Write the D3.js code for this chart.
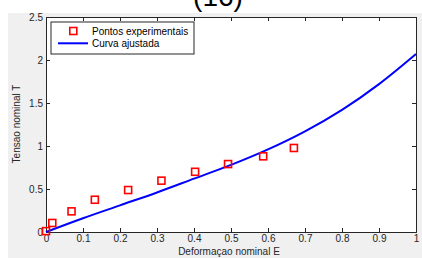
<!DOCTYPE html>
<html><head><meta charset="utf-8">
<script src="https://cdn.jsdelivr.net/npm/d3@7"></script>
<style>body{margin:0;background:#fff}text{font-family:Arial,"Liberation Sans",sans-serif}</style>
</head><body><svg id="c" width="422" height="258"></svg>
<script>
const pointsE = [0, 0.017, 0.069, 0.132, 0.222, 0.312, 0.403, 0.492, 0.587, 0.670];
const pointsT = [0.01, 0.105, 0.24, 0.375, 0.488, 0.597, 0.70, 0.79, 0.88, 0.977];
const curveE = [0, 0.1, 0.2, 0.3, 0.4, 0.5, 0.6, 0.7, 0.8, 0.9, 1.0];
const curveT = [0, 0.16, 0.31, 0.46, 0.62, 0.78, 0.96, 1.17, 1.42, 1.72, 2.07];
const xTicks = [0, 0.1, 0.2, 0.3, 0.4, 0.5, 0.6, 0.7, 0.8, 0.9, 1];
const yTicks = [0, 0.5, 1, 1.5, 2, 2.5];
const legendLabels = ["Pontos experimentais", "Curva ajustada"];

const FS = 10;
const svg = d3.select("#c");
svg.append("rect").attr("x", 8).attr("y", 13).attr("width", 414).attr("height", 245).attr("fill", "#f0f0f0");
svg.append("text").attr("x", 218).attr("y", 6).attr("text-anchor", "middle").attr("font-size", 28).attr("fill", "#000").text("(16)");

const L = 46, R = 416, T = 17, B = 232;
const x = d3.scaleLinear().domain([0, 1]).range([L, R]);
const y = d3.scaleLinear().domain([0, 2.5]).range([B, T]);

svg.append("rect").attr("x", L).attr("y", T).attr("width", R - L).attr("height", B - T).attr("fill", "#fff");

const fmt = d => d3.format("")(d);
const gx = svg.append("g").attr("transform", `translate(0,${B})`).call(d3.axisBottom(x).tickValues(xTicks).tickSize(-4).tickPadding(3).tickFormat(fmt));
const gxt = svg.append("g").attr("transform", `translate(0,${T})`).call(d3.axisTop(x).tickValues(xTicks).tickSize(-4).tickFormat(""));
const gy = svg.append("g").attr("transform", `translate(${L},0)`).call(d3.axisLeft(y).tickValues(yTicks).tickSize(-4).tickPadding(3).tickFormat(fmt));
const gyr = svg.append("g").attr("transform", `translate(${R},0)`).call(d3.axisRight(y).tickValues(yTicks).tickSize(-4).tickFormat(""));
[gx, gxt, gy, gyr].forEach(g => {
  g.selectAll("path").attr("stroke", "#262626").attr("stroke-width", 1);
  g.selectAll("line").attr("stroke", "#262626");
  g.selectAll("text").attr("font-size", FS).attr("fill", "#262626").attr("font-family", "Arial, 'Liberation Sans', sans-serif");
});
gy.selectAll("text").attr("dy", "0.35em");

const line = d3.line().x((d, i) => x(curveE[i])).y(d => y(d)).curve(d3.curveCatmullRom);
svg.append("path").datum(curveT).attr("d", line).attr("fill", "none").attr("stroke", "#0000ff").attr("stroke-width", 2);

svg.append("g").selectAll("rect").data(pointsT).join("rect")
  .attr("x", (d, i) => x(pointsE[i]) - 3.5).attr("y", d => y(d) - 3.5)
  .attr("width", 7).attr("height", 7).attr("fill", "none").attr("stroke", "#ff0000").attr("stroke-width", 1.6);

svg.append("text").attr("transform", `translate(20,124) rotate(-90)`).attr("text-anchor", "middle").attr("font-size", FS).attr("fill", "#262626").text("Tensao nominal T");
svg.append("text").attr("x", 229).attr("y", 255).attr("text-anchor", "middle").attr("font-size", FS).attr("fill", "#262626").text("Deformaçao nominal E");

const lg = svg.append("g");
lg.append("rect").attr("x", 51).attr("y", 22).attr("width", 143).attr("height", 32).attr("fill", "#fff").attr("stroke", "#262626").attr("stroke-width", 1);
lg.append("rect").attr("x", 73.3 - 3.5).attr("y", 31 - 3.5).attr("width", 7).attr("height", 7).attr("fill", "none").attr("stroke", "#ff0000").attr("stroke-width", 1.6);
lg.append("line").attr("x1", 58).attr("x2", 88).attr("y1", 43.3).attr("y2", 43.3).attr("stroke", "#0000ff").attr("stroke-width", 2);
lg.selectAll("text").data(legendLabels).join("text").attr("x", 92).attr("y", (d, i) => 31 + i * 12.3).attr("dy", "0.35em").attr("font-size", FS).attr("fill", "#000").text(d => d);
</script></body></html>
